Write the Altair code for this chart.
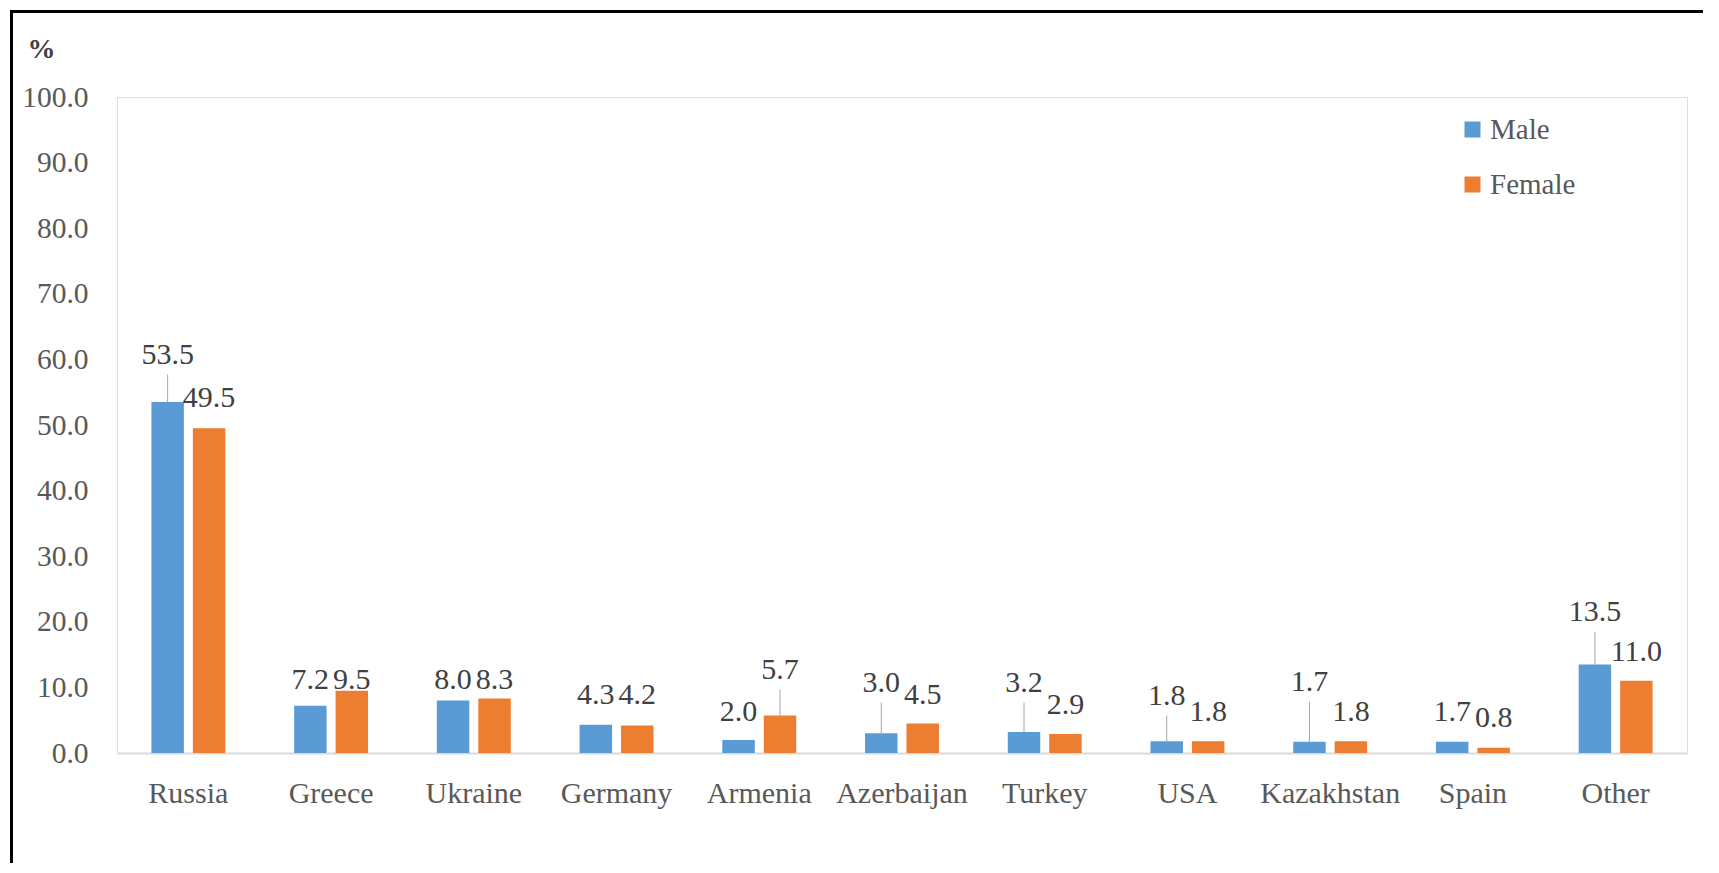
import altair as alt
import pandas as pd

countries = ["Russia", "Greece", "Ukraine", "Germany", "Armenia", "Azerbaijan",
             "Turkey", "USA", "Kazakhstan", "Spain", "Other"]
male = [53.5, 7.2, 8.0, 4.3, 2.0, 3.0, 3.2, 1.8, 1.7, 1.7, 13.5]
female = [49.5, 9.5, 8.3, 4.2, 5.7, 4.5, 2.9, 1.8, 1.8, 0.8, 11.0]
# height (in %) at which each data label sits
male_label_at = [60.7, 11.1, 11.1, 8.8, 6.25, 10.7, 10.7, 8.7, 10.8, 6.25, 21.5]
female_label_at = [54.1, 11.1, 11.1, 8.8, 12.65, 8.8, 7.3, 6.25, 6.25, 5.3, 15.4]
sexes = ["Male", "Female"]
colors = ["#5B9BD5", "#ED7D31"]
y_ticks = [0, 10, 20, 30, 40, 50, 60, 70, 80, 90, 100]

rows = []
for i, c in enumerate(countries):
    rows.append({"country": c, "sex": "Male", "value": male[i], "label_y": male_label_at[i]})
    rows.append({"country": c, "sex": "Female", "value": female[i], "label_y": female_label_at[i]})
df = pd.DataFrame(rows)

FONT = "Liberation Serif"

x_enc = alt.X("country:N", sort=countries,
              scale=alt.Scale(paddingInner=0, paddingOuter=0),
              axis=alt.Axis(title=None, labelAngle=0, ticks=False, labelPadding=25,
                            labelFontSize=30, labelColor="#595959", labelFont=FONT,
                            domainColor="#d9d9d9", domainWidth=2))
xoff = alt.XOffset("sex:N", sort=sexes,
                   scale=alt.Scale(paddingInner=0.217, paddingOuter=0.83))
y_scale = alt.Scale(domain=[0, 100], nice=False)

bars = alt.Chart(df).mark_bar().encode(
    x=x_enc,
    xOffset=xoff,
    y=alt.Y("value:Q", scale=y_scale,
            axis=alt.Axis(values=y_ticks, format=".1f", grid=False, ticks=False,
                          domain=False, labelPadding=29, labelFontSize=29.5,
                          labelColor="#595959", labelFont=FONT,
                          title="%", titleAngle=0, titleAlign="left",
                          titleBaseline="middle", titleX=-90, titleY=-48,
                          titleFontSize=28, titleFont=FONT, titleColor="#404040",
                          titleFontWeight="bold")),
    color=alt.Color("sex:N", sort=sexes,
                    scale=alt.Scale(domain=sexes, range=colors),
                    legend=alt.Legend(title=None, orient="none", legendX=1341, legendY=18,
                                      symbolType="square", symbolSize=256,
                                      symbolStrokeWidth=0, labelFontSize=29,
                                      labelFont=FONT, labelColor="#595959",
                                      labelOffset=3, rowPadding=25)),
)

leaders = alt.Chart(df).transform_filter(
    "datum.label_y - datum.value > 6"
).transform_calculate(
    lead_top="datum.label_y - 3"
).mark_rule(color="#a6a6a6", strokeWidth=1).encode(
    x=alt.X("country:N", sort=countries),
    xOffset=alt.XOffset("sex:N", sort=sexes),
    y=alt.Y("value:Q", scale=y_scale),
    y2="lead_top:Q",
)

labels = alt.Chart(df).mark_text(font=FONT, fontSize=30, color="#404040",
                                 baseline="middle", align="center").encode(
    x=alt.X("country:N", sort=countries),
    xOffset=alt.XOffset("sex:N", sort=sexes),
    y=alt.Y("label_y:Q", scale=y_scale),
    text=alt.Text("value:Q", format=".1f"),
)

frame_top = alt.Chart(df).mark_rule(color="#000000", strokeWidth=3).encode(
    x=alt.value(-106), x2=alt.value(1620), y=alt.value(-85.5))
frame_left = alt.Chart(df).mark_rule(color="#000000", strokeWidth=3).encode(
    x=alt.value(-105.5), y=alt.value(-87), y2=alt.value(800))

chart = alt.layer(bars, leaders, labels, frame_top, frame_left).properties(
    width=1570, height=656,
    autosize=alt.AutoSizeParams(type="none"),
    padding={"left": 109, "top": 89, "right": 16, "bottom": 110},
).configure_view(stroke="#a6a6a6", strokeWidth=1.5).configure(background="white")

chart.save("out.html", embed_options={"renderer": "svg", "actions": False})
